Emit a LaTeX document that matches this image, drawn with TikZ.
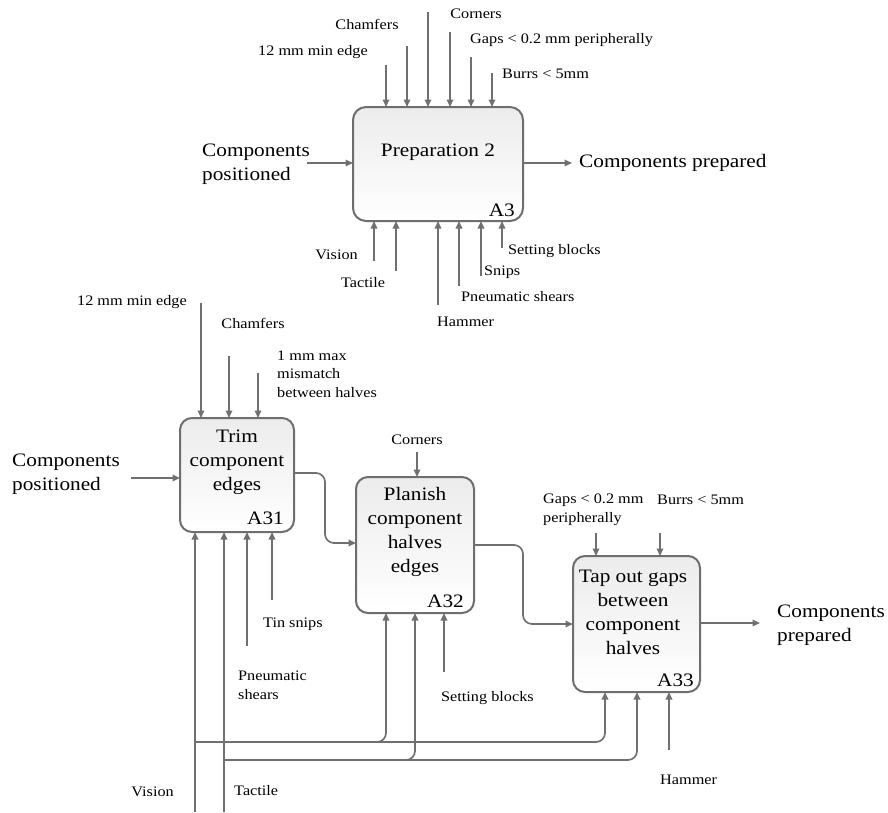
\documentclass[tikz,border=0pt]{standalone}
\usepackage{fontspec}
\setmainfont{Liberation Serif}[FakeStretch=1.12]
\usetikzlibrary{arrows.meta}
\definecolor{ln}{RGB}{112,112,112}
\definecolor{bx}{RGB}{110,110,110}
\definecolor{topg}{RGB}{236,236,236}
\newcommand\smalltxt{\fontsize{14.5}{18.6}\selectfont}
\newcommand\bigtxt{\fontsize{19}{24}\selectfont}
\tikzset{
  proc/.style={draw=bx, line width=2pt, rounded corners=13pt, top color=topg, bottom color=white, minimum width=#1, inner sep=0pt, outer sep=0pt},
  lbl/.style={inner sep=0pt, font=\smalltxt, text=black},
  btxt/.style={inner sep=0pt, font=\bigtxt, text=black},
  arr/.style={draw=ln, line width=1.7pt, -{Triangle[length=7.5pt,width=6.5pt]}},
  wire/.style={draw=ln, line width=1.7pt, rounded corners=9pt, -{Triangle[length=7.5pt,width=6.5pt]}},
  plain/.style={draw=ln, line width=1.7pt}
}
\begin{document}
\begin{tikzpicture}[x=1pt,y=-1pt]
\useasboundingbox (0,0) rectangle (888,812);

% ===== Top: A3 =====
\node[proc=170pt, minimum height=114pt] (a3) at (438,164) {};
\node[btxt] (a3t) at (438,152) {Preparation 2};
\node[btxt, anchor=east] (a3n) at (515,210) {A3};

\coordinate (t1) at (386,65);
\coordinate (t2) at (407,46);
\coordinate (t3) at (428,12);
\coordinate (t4) at (450,32);
\coordinate (t5) at (471,57);
\coordinate (t6) at (492,73);
\foreach \c in {t1,t2,t3,t4,t5,t6} \draw[arr] (\c) -- (\c |- a3.north);
\node[lbl, anchor=east] (l1) at (368,52) {12 mm min edge};
\node[lbl] (l2) at (367,24) {Chamfers};
\node[lbl] (l4) at (476,14) {Corners};
\node[lbl, anchor=west] (l5) at (470,40) {Gaps < 0.2 mm peripherally};
\node[lbl, anchor=west] (l6) at (502,74) {Burrs < 5mm};

\node[btxt, anchor=west, align=left] (inA3) at (202,164) {Components\\positioned};
\coordinate (ia3) at (307,163);
\draw[arr] (ia3) -- (ia3 -| a3.west);
\coordinate (oa3) at (572,163);
\draw[arr] (oa3 -| a3.east) -- (oa3);
\node[btxt, anchor=west] (outA3) at (579,163) {Components prepared};

\coordinate (b1) at (374,261);
\coordinate (b2) at (396,271);
\coordinate (b3) at (438,305);
\coordinate (b4) at (459,286);
\coordinate (b5) at (481,276);
\coordinate (b6) at (502,248);
\foreach \c in {b1,b2,b3,b4,b5,b6} \draw[arr] (\c) -- (\c |- a3.south);
\node[lbl, anchor=east] (m1) at (358,255) {Vision};
\node[lbl] (m2) at (363,283) {Tactile};
\node[lbl, anchor=west] (m3) at (437,322) {Hammer};
\node[lbl, anchor=west] (m4) at (461,297) {Pneumatic shears};
\node[lbl, anchor=west] (m5) at (484,272) {Snips};
\node[lbl, anchor=west] (m6) at (508,251) {Setting blocks};

% ===== A31 =====
\node[proc=114pt, minimum height=114pt, rounded corners=12pt] (a31) at (237,475) {};
\node[btxt, align=center] (a31t) at (237,462) {Trim\\component\\edges};
\node[btxt, anchor=east] (a31n) at (284,518) {A31};
\coordinate (u1) at (201,303);
\coordinate (u2) at (229,356);
\coordinate (u3) at (258,373);
\foreach \c in {u1,u2,u3} \draw[arr] (\c) -- (\c |- a31.north);
\node[lbl, anchor=east] (k1) at (187,302) {12 mm min edge};
\node[lbl] (k2) at (253,323) {Chamfers};
\node[lbl, anchor=west, align=left] (k3) at (277,374) {1 mm max\\mismatch\\between halves};
\node[btxt, anchor=west, align=left] (inA31) at (12,474) {Components\\positioned};
\coordinate (ia31) at (131,478);
\draw[arr] (ia31) -- (ia31 -| a31.west);

\coordinate (d3) at (247,646);
\coordinate (d4) at (272,600);
\foreach \c in {d3,d4} \draw[arr] (\c) -- (\c |- a31.south);
\node[lbl, anchor=west] (k4) at (263,624) {Tin snips};
\node[lbl, anchor=west, align=left] (k5) at (238,685) {Pneumatic\\shears};

% ===== A32 =====
\node[proc=118pt, minimum height=136pt, rounded corners=12pt] (a32) at (415,545) {};
\node[btxt, align=center] (a32t) at (415,532) {Planish\\component\\halves\\edges};
\node[btxt, anchor=east] (a32n) at (464,601) {A32};
\coordinate (c1) at (417,452);
\draw[arr] (c1) -- (c1 |- a32.north);
\node[lbl] (k6) at (417,440) {Corners};
\coordinate (e3) at (444,672);
\draw[arr] (e3) -- (e3 |- a32.south);
\node[lbl, anchor=west] (k7) at (441,698) {Setting blocks};

\draw[wire] (a31.east |- 0,473) -- (325,473) -- (325,543) -- (a32.west |- 0,543);

% ===== A33 =====
\node[proc=127pt, minimum height=136pt, rounded corners=12pt] (a33) at (636.5,624) {};
\node[btxt, align=center] (a33t) at (633,612) {Tap out gaps\\between\\component\\halves};
\node[btxt, anchor=east] (a33n) at (694,680) {A33};
\coordinate (g1) at (596,533);
\coordinate (g2) at (660,533);
\foreach \c in {g1,g2} \draw[arr] (\c) -- (\c |- a33.north);
\node[lbl, anchor=west, align=left] (k8) at (543,510) {Gaps < 0.2 mm\\peripherally};
\node[lbl, anchor=west] (k9) at (657,500) {Burrs < 5mm};
\coordinate (h3) at (669,750);
\draw[arr] (h3) -- (h3 |- a33.south);
\node[lbl, anchor=west] (k10) at (660,780) {Hammer};
\coordinate (oa33) at (760,623);
\draw[arr] (oa33 -| a33.east) -- (oa33);
\node[btxt, anchor=west, align=left] (outA33) at (777,625) {Components\\prepared};

\draw[wire] (a32.east |- 0,545) -- (523,545) -- (523,624) -- (a33.west |- 0,624);

% ===== Vision / Tactile =====
\coordinate (vb) at (195,812);
\coordinate (tb) at (224,812);
\coordinate (vj) at (195,742);
\coordinate (tj) at (224,760);
\draw[arr] (vb) -- (vb |- a31.south);
\draw[arr] (tb) -- (tb |- a31.south);
\draw[wire] (vj) -- (386,742) -- (386,742 |- a32.south);
\draw[wire] (vj) -- (605,742) -- (605,742 |- a33.south);
\draw[wire] (tj) -- (415,760) -- (415,760 |- a32.south);
\draw[wire] (tj) -- (637,760) -- (637,760 |- a33.south);
\node[lbl, anchor=east] (vis) at (174,792) {Vision};
\node[lbl, anchor=west] (tac) at (234,791) {Tactile};
\end{tikzpicture}
\end{document}
